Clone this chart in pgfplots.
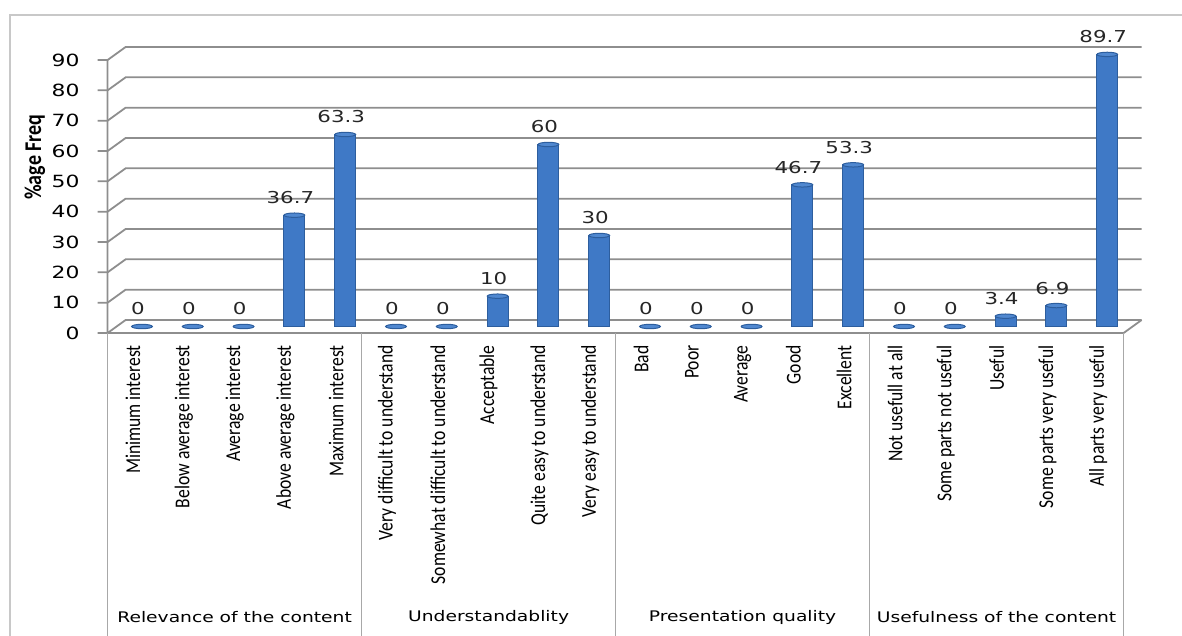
\documentclass[border=0pt]{standalone}
\usepackage{pgfplots}
\pgfplotsset{compat=1.18}
\usepackage{fontspec}
\setmainfont{DejaVu Sans}
\newfontfamily\carlito{Carlito}
\definecolor{barM}{HTML}{3F79C6}
\definecolor{barL}{HTML}{5088D0}
\definecolor{barE}{HTML}{2D5E9E}
\definecolor{gridc}{HTML}{8E8E8E}
\definecolor{sepc}{HTML}{A8A8A8}
\definecolor{framec}{HTML}{C8C8C8}
\pgfdeclareplotmark{cap}{\pgfpathellipse{\pgfpointorigin}{\pgfqpoint{5.2pt}{0pt}}{\pgfqpoint{0pt}{1.1pt}}\pgfusepathqfillstroke}
\newcommand\rl[1]{\rotatebox{90}{#1}}
\pgfplotstableread{
x y
0 0
1 0
2 0
3 36.7
4 63.3
5 0
6 0
7 10
8 60
9 30
10 0
11 0
12 0
13 46.7
14 53.3
15 0
16 0
17 3.4
18 6.9
19 89.7
}\datatab
\begin{document}
\begin{tikzpicture}
\begin{axis}[
  scale only axis, width=508pt, height=136.5pt,
  xmin=-0.5, xmax=19.5, ymin=0, ymax=90,
  enlargelimits=false, clip=false,
  axis line style={draw=none}, major tick length=0pt,
  xtick={0,...,19}, ytick={0,10,20,30,40,50,60,70,80,90},
  xticklabels={{\rl{Minimum interest}},{\rl{Below average interest}},{\rl{Average interest}},{\rl{Above average interest}},{\rl{Maximum interest}},
    {\rl{Very difficult to understand}},{\rl{Somewhat difficult to understand}},{\rl{Acceptable}},{\rl{Quite easy to understand}},{\rl{Very easy to understand}},
    {\rl{Bad}},{\rl{Poor}},{\rl{Average}},{\rl{Good}},{\rl{Excellent}},
    {\rl{Not usefull at all}},{\rl{Some parts not useful}},{\rl{Useful}},{\rl{Some parts very useful}},{\rl{All parts very useful}}},
  xticklabel style={font=\carlito\fontsize{8.8}{10}\selectfont, anchor=north, inner sep=0pt, xshift=-4.5pt, yshift=-9.25pt, xscale=1.2},
  yticklabel style={font=\fontsize{8.4}{10}\selectfont, anchor=east, inner sep=0pt, xshift=-18.3pt, yshift=-3.25pt, xscale=1.3},
  /pgf/number format/assume math mode=true,
]
% outer frame
\draw[framec, line width=0.6pt] ([shift={(-53.3pt,-170pt)}]axis cs:-0.5,0) -- ([shift={(-53.3pt,155.75pt)}]axis cs:-0.5,0) -- ([shift={(545pt,155.75pt)}]axis cs:-0.5,0);
% gridlines (3D back wall) with tick marks
\pgfplotsinvokeforeach{0,10,20,30,40,50,60,70,80,90}{
  \draw[gridc, line width=0.9pt] ([shift={(-9.5pt,-3.25pt)}]axis cs:-0.5,#1) -- ([shift={(-4.5pt,-3.25pt)}]axis cs:-0.5,#1) -- ([shift={(4.5pt,3.25pt)}]axis cs:-0.5,#1) -- ([shift={(4.5pt,3.25pt)}]axis cs:19.5,#1);
}
% front axis line and floor
\draw[gridc, line width=0.9pt] ([shift={(-4.5pt,-3.25pt)}]axis cs:-0.5,90) -- ([shift={(-4.5pt,-3.25pt)}]axis cs:-0.5,0) -- ([shift={(-4.5pt,-3.25pt)}]axis cs:19.5,0) -- ([shift={(4.5pt,3.25pt)}]axis cs:19.5,0);
% group separators
\pgfplotsinvokeforeach{-0.5,4.5,9.5,14.5,19.5}{
  \draw[sepc, line width=0.7pt] ([shift={(-4.5pt,-3.25pt)}]axis cs:#1,0) -- ([shift={(-4.5pt,-170pt)}]axis cs:#1,0);
}
% group labels
\node[font=\fontsize{7.3}{9}\selectfont, xscale=1.28] at ([shift={(-4.5pt,-145.25pt)}]axis cs:2,0) {Relevance of the content};
\node[font=\fontsize{7.3}{9}\selectfont, xscale=1.28] at ([shift={(-4.5pt,-145.25pt)}]axis cs:7,0) {Understandablity};
\node[font=\fontsize{7.3}{9}\selectfont, xscale=1.28] at ([shift={(-4.5pt,-145.25pt)}]axis cs:12,0) {Presentation quality};
\node[font=\fontsize{7.3}{9}\selectfont, xscale=1.28] at ([shift={(-4.5pt,-145.25pt)}]axis cs:17,0) {Usefulness of the content};
% y label
\node[font=\carlito\bfseries\fontsize{10}{12}\selectfont] at ([shift={(-40.8pt,84.75pt)}]axis cs:-0.5,0) {\scalebox{1.2}[1]{\rotatebox{90}{\%age Freq}}};
% bars
\addplot[ybar, bar width=0.41, draw=barE, line width=0.5pt, fill=barM] table[x=x,y=y] {\datatab};
\addplot[only marks, mark=cap, mark options={fill=barL, draw=barE, line width=0.5pt},
  nodes near coords,
  every node near coord/.append style={font=\fontsize{8.2}{10}\selectfont, anchor=center, xshift=-2pt, yshift=8.75pt, xscale=1.3, text=black!85}] table[x=x,y=y] {\datatab};
\end{axis}
\pgfresetboundingbox
\path[use as bounding box] ([shift={(-58.3pt,-154.75pt)}]current axis.south west) rectangle ([shift={(532.7pt,163.25pt)}]current axis.south west);
\end{tikzpicture}
\end{document}
